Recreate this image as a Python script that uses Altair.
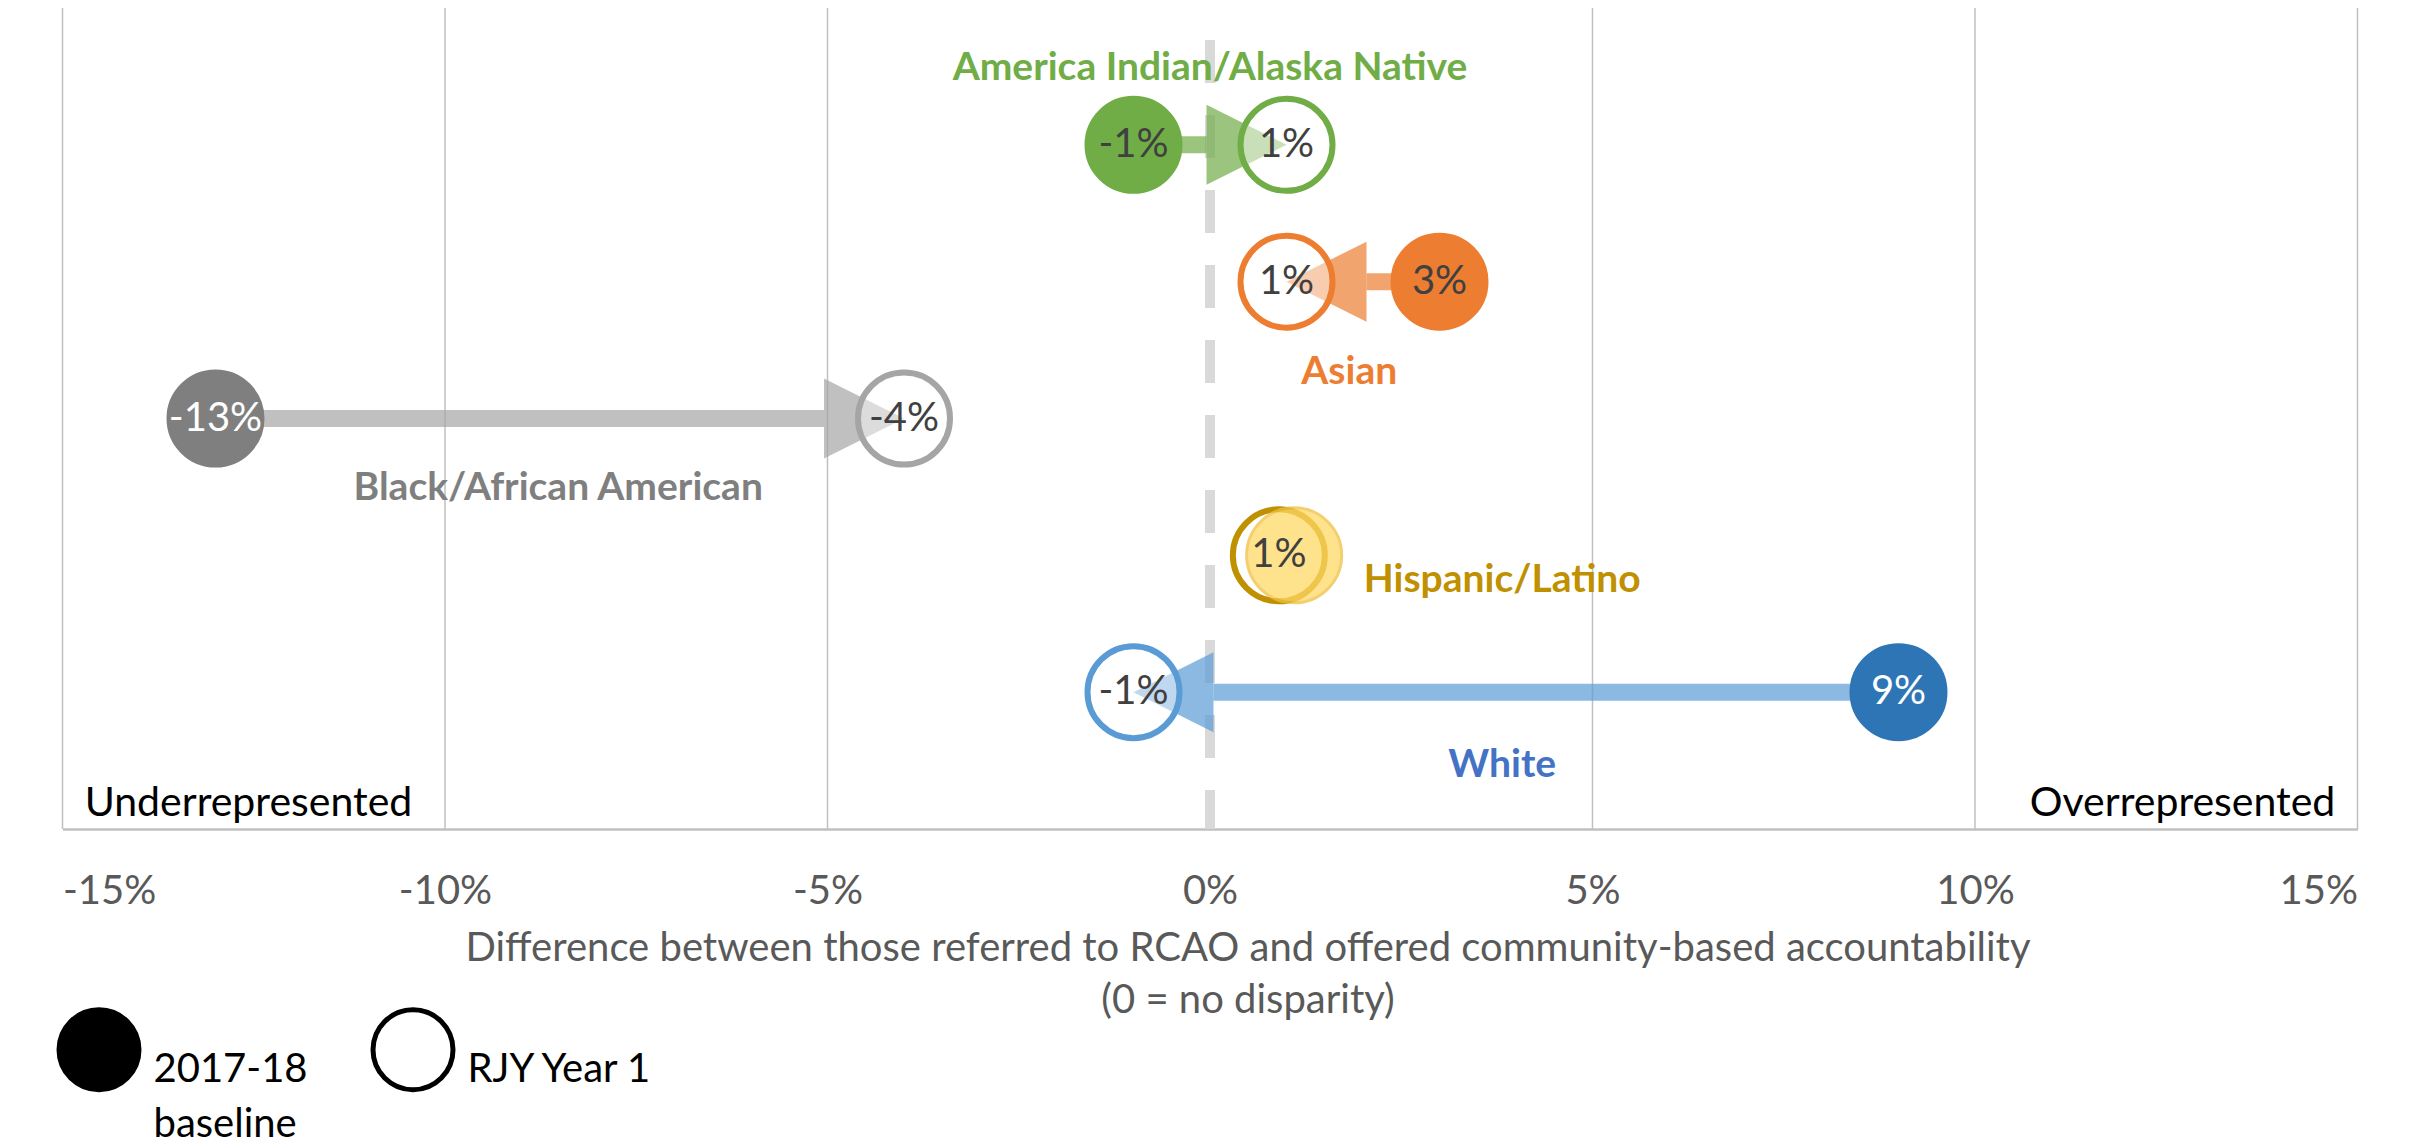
import altair as alt
import pandas as pd

# ---------------- data ----------------
races = ["America Indian/Alaska Native", "Asian", "Black/African American",
         "Hispanic/Latino", "White"]
rows = [1, 2, 3, 4, 5]
baseline_2017 = [-1, 3, -13, 1.1, 9]
rjy_year1 = [1, 1, -4, 0.9, -1]
x_ticks = [-15, -10, -5, 0, 5, 10, 15]
legend_labels = ["2017-18 baseline", "RJY Year 1"]
side_labels = ["Underrepresented", "Overrepresented"]
axis_title = ["Difference between those referred to RCAO and offered community-based accountability",
              "(0 = no disparity)"]

# ---------------- styles ----------------
W, H = 2295, 821
FONT = "Lato"
base_fill = ["#70ad47", "#ed7d31", "#7f7f7f", "#ffd966", "#2e75b6"]
base_rim = ["#70ad47", "#ed7d31", "#7f7f7f", "#f0c040", "#2e75b6"]
ring_col = ["#70ad47", "#ed7d31", "#a5a5a5", "#bf9000", "#5b9bd5"]
label_col = ["#70ad47", "#ed7d31", "#7f7f7f", "#bf9000", "#4472c4"]
light_text = ["Black/African American", "White"]   # white text on baseline dot
translucent_base = "Hispanic/Latino"
# label anchor placement (data units) for category names
label_x = [0.0, 1.82, -8.52, 3.82, 3.82]
label_y = [0.44, 2.66, 3.51, 4.18, 5.53]

HEAD_PX = 80
HEAD_LEN = HEAD_PX / (W / 30.0)
PATH_R = "M0,0L-2,-1L-2,1Z"
PATH_L = "M0,0L2,-1L2,1Z"

wide = pd.DataFrame({"race": races, "row": rows, "base": baseline_2017, "yr1": rjy_year1,
                     "lx": label_x, "ly": label_y})
long = pd.concat([
    pd.DataFrame({"race": races, "row": rows, "value": baseline_2017, "other": rjy_year1, "kind": "base"}),
    pd.DataFrame({"race": races, "row": rows, "value": rjy_year1, "other": baseline_2017, "kind": "yr1"}),
], ignore_index=True)

xs = alt.Scale(domain=[-15, 15], nice=False, zero=False)
ys = alt.Scale(domain=[0, 6], reverse=True, nice=False, zero=False)
xaxis = alt.Axis(
    values=x_ticks, labelExpr="datum.value + '%'", grid=False,
    ticks=False, tickSize=0, domainColor="#c0c0c0", domainWidth=2.5,
    labelFont=FONT, labelFontSize=40, labelColor="#595959", labelPadding=42,
    title=axis_title, titleFont=FONT, titleFontSize=40, titleFontWeight="normal",
    titleColor="#595959", titleX=1185, titleY=131, titleBaseline="alphabetic",
    titleAlign="center", titleLineHeight=52,
)


def X(f):
    return alt.X(f, scale=xs, axis=xaxis)


def Y(f):
    return alt.Y(f, scale=ys, axis=None)


race_scale = lambda rng: alt.Scale(domain=races, range=rng)

# vertical gridlines (the 0 line is drawn dashed instead)
grid = alt.Chart(pd.DataFrame({"g": x_ticks})).transform_filter("datum.g !== 0").mark_rule(
    color="#c0c0c0", strokeWidth=1.5
).encode(x=X("g:Q"), y=alt.value(0), y2=alt.value(H))

# zero line
zero = alt.Chart(pd.DataFrame({"g": x_ticks})).transform_filter("datum.g === 0").mark_rule(
    color="#d9d9d9", strokeWidth=10, strokeDash=[43, 32], strokeDashOffset=43
).encode(x=X("g:Q"), y=alt.value(0), y2=alt.value(H))

arrow_base = alt.Chart(wide).transform_filter(
    "abs(datum.yr1 - datum.base) > 1"
).transform_calculate(
    dirn="datum.yr1 > datum.base ? 'right' : 'left'",
    shaft_end=f"datum.yr1 > datum.base ? datum.yr1 - {HEAD_LEN} : datum.yr1 + {HEAD_LEN}",
)

shaft = arrow_base.mark_rule(strokeWidth=17, opacity=0.7, strokeCap="butt").encode(
    x=X("base:Q"), x2="shaft_end:Q", y=Y("row:Q"),
    stroke=alt.Stroke("race:N", scale=race_scale(ring_col), legend=None),
)

head = arrow_base.mark_point(filled=True, size=6400, opacity=0.7, strokeWidth=0).encode(
    x=X("yr1:Q"), y=Y("row:Q"),
    shape=alt.Shape("dirn:N", scale=alt.Scale(domain=["right", "left"], range=[PATH_R, PATH_L]), legend=None),
    color=alt.Color("race:N", scale=race_scale(ring_col), legend=None),
)

yr1_dots = alt.Chart(wide).mark_point(
    shape="circle", filled=True, fill="white", fillOpacity=0.45, size=92 ** 2,
    strokeWidth=6, strokeOpacity=1,
).encode(
    x=X("yr1:Q"), y=Y("row:Q"),
    stroke=alt.Stroke("race:N", scale=race_scale(ring_col), legend=None),
)

base_dots = alt.Chart(wide).mark_point(shape="circle", filled=True, size=95 ** 2, strokeWidth=3).encode(
    x=X("base:Q"), y=Y("row:Q"),
    color=alt.Color("race:N", scale=race_scale(base_fill), legend=None),
    stroke=alt.Stroke("race:N", scale=race_scale(base_rim), legend=None),
    opacity=alt.condition(f"datum.race === '{translucent_base}'", alt.value(0.75), alt.value(1.0)),
)

light_list = "[" + ",".join(f"'{r}'" for r in light_text) + "]"
dot_text = alt.Chart(long).transform_filter(
    "!(datum.kind === 'base' && abs(datum.value - datum.other) < 0.5)"
).transform_calculate(
    label="round(datum.value) + '%'"
).mark_text(font=FONT, fontSize=40, baseline="middle", align="center").encode(
    x=X("value:Q"), y=Y("row:Q"), text="label:N",
    color=alt.condition(f"datum.kind === 'base' && indexof({light_list}, datum.race) >= 0",
                        alt.value("white"), alt.value("#404040")),
)

cat_text = alt.Chart(wide).mark_text(
    font=FONT, fontSize=39, fontWeight="bold", baseline="middle", align="center"
).encode(
    x=X("lx:Q"), y=Y("ly:Q"), text="race:N",
    color=alt.Color("race:N", scale=race_scale(label_col), legend=None),
)

side_df = pd.DataFrame({"t": side_labels, "sx": [-14.71, 14.71], "sy": [5.905, 5.905]})
under = alt.Chart(side_df).transform_filter(f"datum.t === '{side_labels[0]}'").mark_text(
    font=FONT, fontSize=41, baseline="alphabetic", align="left", color="black"
).encode(x=X("sx:Q"), y=Y("sy:Q"), text="t:N")
over = alt.Chart(side_df).transform_filter(f"datum.t === '{side_labels[1]}'").mark_text(
    font=FONT, fontSize=41, baseline="alphabetic", align="right", color="black"
).encode(x=X("sx:Q"), y=Y("sy:Q"), text="t:N")

legend_layer = alt.Chart(pd.DataFrame({"kind": legend_labels})).mark_point(
    shape="circle", filled=True, opacity=0
).encode(
    x=X("zero_x:Q"), y=Y("zero_y:Q"),
    fill=alt.Fill("kind:N", scale=alt.Scale(domain=legend_labels, range=["black", "white"]),
                  legend=alt.Legend(
                      orient="none", legendX=-6, legendY=999, direction="horizontal",
                      title=None, symbolType="circle", symbolSize=6400,
                      symbolStrokeColor="black", symbolStrokeWidth=5, symbolOpacity=1,
                      labelFont=FONT, labelFontSize=40, labelColor="black",
                      labelOffset=12, labelLimit=600, labelBaseline="top",
                      labelExpr="datum.label == '2017-18 baseline' ? ['2017-18', 'baseline'] : [datum.label, '']",
                      columnPadding=54, padding=0,
                  )),
).transform_calculate(zero_x="0", zero_y="3")

chart = alt.layer(
    grid, zero, shaft, head, yr1_dots, base_dots, dot_text, cat_text, under, over, legend_layer
).resolve_scale(color="independent", stroke="independent").properties(
    width=W, height=H,
    autosize=alt.AutoSizeParams(type="none"),
    padding={"left": 54.5, "top": 0, "right": 30, "bottom": 318},
    background="white",
).configure(
    view=alt.ViewConfig(stroke=None),
    style={"guide-label": {"lineHeight": 55}},
)

chart.save("out.html", embed_options={"renderer": "svg", "actions": False})
